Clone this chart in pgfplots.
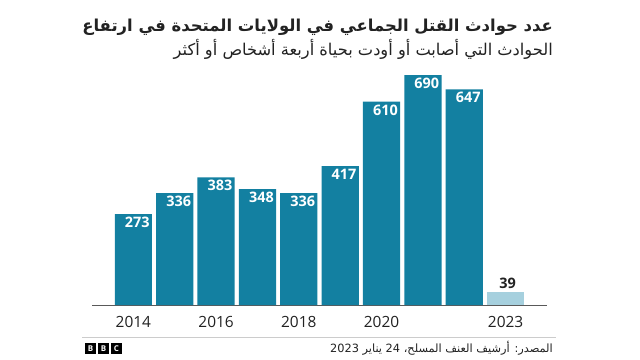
\documentclass[border=0pt]{standalone}
\usepackage{fontspec}
\setmainfont{Open Sans}
\newfontfamily\arabicfont[Script=Arabic]{DejaVu Sans}
\TeXXeTstate=1
\usepackage{pgfplots}
\pgfplotsset{compat=1.18}
\definecolor{bardark}{HTML}{1380A1}
\definecolor{barlight}{HTML}{A6D0DE}
\definecolor{txt}{HTML}{222222}

\begin{document}
\begin{tikzpicture}
\useasboundingbox (0,0) rectangle (640bp,-360bp);
\fill[white] (0,0) rectangle (640bp,-360bp);
\begin{axis}[
 at={(92bp,-305bp)}, anchor=south west,
 scale only axis, width=455bp, height=250bp,
 xmin=-1, xmax=10, ymin=0, ymax=750,
 axis x line=bottom, axis y line=none,
 x axis line style={draw=black!65, line width=0.8pt, -},
 xtick={0,2,4,6,9}, xticklabels={2014,2016,2018,2020,2023},
 major tick length=0pt,
 xticklabel style={font=\fontsize{15.5}{18}\selectfont, text=txt, yshift=-8bp},
 /pgf/number format/assume math mode=true,
 clip=false,
]
\addplot[ybar, bar shift=0pt, bar width=0.9, fill=bardark, draw=none,
  nodes near coords,
  nodes near coords style={anchor=north east, xshift=16.5bp, yshift=-3bp, inner sep=0pt,
    font=\bfseries\fontsize{14.5}{16}\selectfont, text=white}]
 coordinates {(0,273)(1,336)(2,383)(3,348)(4,336)(5,417)(6,610)(7,690)(8,647)};
\addplot[ybar, bar shift=0pt, bar width=0.9, fill=barlight, draw=none,
  nodes near coords,
  nodes near coords style={anchor=south, xshift=2bp, yshift=3bp, inner sep=0pt,
    font=\bfseries\fontsize{14.5}{16}\selectfont, text=txt}]
 coordinates {(9,39)};
\end{axis}
\node[anchor=base east, inner sep=0pt, text=txt, font=\arabicfont\bfseries\fontsize{16.5}{20}\selectfont]
  at (553bp,-31bp) {\beginR عدد حوادث القتل الجماعي في الولايات المتحدة في ارتفاع\endR};
\node[anchor=base east, inner sep=0pt, text=txt, font=\arabicfont\fontsize{16.3}{19}\selectfont]
  at (553bp,-55bp) {\beginR الحوادث التي أصابت أو أودت بحياة أربعة أشخاص أو أكثر\endR};
\draw[black!20, line width=0.8pt] (82bp,-337bp) -- (556bp,-337bp);
\foreach \x/\l in {85/B,98/B,111/C}{
  \fill[black] (\x bp,-343bp) rectangle ++(11bp,-11bp);
  \node[text=white, inner sep=0pt, font=\bfseries\fontsize{8}{8}\selectfont] at (\x bp+5.5bp,-348.5bp) {\l};
}
\node[anchor=base east, inner sep=0pt, text=txt, font=\arabicfont\fontsize{11.4}{14}\selectfont]
  at (553bp,-352bp) {\beginR المصدر: أرشيف العنف المسلح، 24 يناير 2023\endR};
\end{tikzpicture}
\end{document}
